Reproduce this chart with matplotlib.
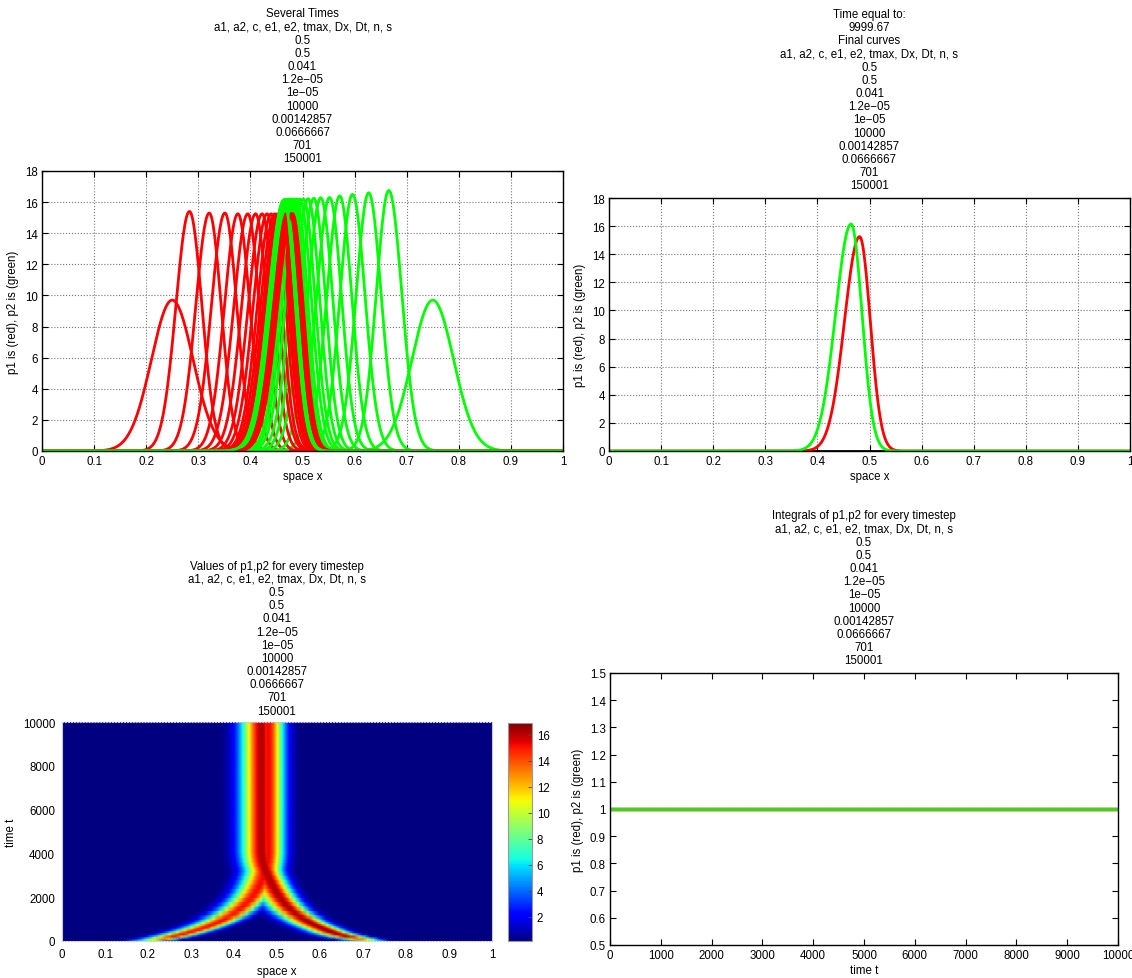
import numpy as np
import matplotlib
matplotlib.use('Agg')
import matplotlib.pyplot as plt
from matplotlib.ticker import FuncFormatter, MultipleLocator

plt.rcParams['font.family'] = ['Liberation Sans', 'DejaVu Sans']
plt.rcParams['font.size'] = 8.3
plt.rcParams['axes.titlesize'] = 8.3

# run parameters printed in every title
param_names = 'a1, a2, c, e1, e2, tmax, Dx, Dt, n, s'
param_values = [0.5, 0.5, 0.041, 1.2e-05, 1e-05, 10000, 0.00142857, 0.0666667, 701, 150001]
t_final = 9999.67
n_x = 701

# top left: snapshot curves (peak position, height, left / right width)
red_x = [0.250, 0.283, 0.321, 0.351, 0.376, 0.395, 0.410, 0.4225, 0.432, 0.440, 0.447, 0.452,
         0.456, 0.460, 0.463, 0.466, 0.469, 0.471, 0.473, 0.475, 0.477, 0.479, 0.480, 0.481]
red_h = [9.7, 15.4, 15.3, 15.3, 15.25, 15.25, 15.25, 15.25, 15.25, 15.25, 15.25, 15.25,
         15.25, 15.25, 15.25, 15.25, 15.25, 15.25, 15.25, 15.25, 15.25, 15.25, 15.25, 15.25]
red_wl = [0.040, 0.026, 0.026, 0.026, 0.026, 0.027, 0.027, 0.027, 0.027, 0.027, 0.028, 0.028,
          0.028, 0.028, 0.028, 0.028, 0.029, 0.029, 0.029, 0.029, 0.029, 0.029, 0.029, 0.029]
red_wr = [0.040, 0.024, 0.023, 0.023, 0.023, 0.022, 0.022, 0.022, 0.022, 0.021, 0.021, 0.021,
          0.021, 0.021, 0.021, 0.0205, 0.0205, 0.0205, 0.0205, 0.0205, 0.0205, 0.0205, 0.0205, 0.0205]
green_x = [0.750, 0.6656, 0.627, 0.596, 0.5715, 0.552, 0.535, 0.522, 0.511, 0.502, 0.495, 0.489,
           0.484, 0.480, 0.477, 0.474, 0.472, 0.470, 0.468, 0.467, 0.466, 0.4655, 0.465, 0.4646]
green_h = [9.7, 16.75, 16.6, 16.5, 16.4, 16.3, 16.28, 16.25, 16.22, 16.2, 16.2, 16.2,
           16.2, 16.2, 16.2, 16.2, 16.18, 16.18, 16.17, 16.16, 16.15, 16.15, 16.15, 16.15]
green_wl = [0.040, 0.024, 0.024, 0.024, 0.025, 0.025, 0.025, 0.026, 0.026, 0.026, 0.027, 0.027,
            0.027, 0.028, 0.028, 0.028, 0.029, 0.029, 0.029, 0.029, 0.0297, 0.0297, 0.0297, 0.0297]
green_wr = [0.040, 0.025, 0.024, 0.024, 0.023, 0.023, 0.023, 0.022, 0.022, 0.022, 0.022, 0.021,
            0.021, 0.021, 0.021, 0.021, 0.021, 0.021, 0.021, 0.021, 0.021, 0.021, 0.021, 0.021]

# top right: final curves
fin_red = (0.481, 15.25, 0.029, 0.0205)
fin_green = (0.4646, 16.15, 0.0297, 0.021)

# bottom left: branch tracks of p1 / p2 in time
hm_t = [0, 100, 200, 300, 400, 500, 600, 700, 800, 900, 1000, 1200, 1400, 1600, 1800,
        2000, 2200, 2400, 2600, 2800, 3000, 3200, 3400, 3600, 3800, 4000, 10000]
hm_x1 = [0.205, 0.235, 0.258, 0.278, 0.296, 0.313, 0.330, 0.344, 0.357, 0.369, 0.380, 0.397,
         0.411, 0.423, 0.434, 0.443, 0.451, 0.457, 0.462, 0.467, 0.470, 0.474, 0.477, 0.479,
         0.480, 0.481, 0.481]
hm_x2 = [0.720, 0.695, 0.670, 0.650, 0.633, 0.620, 0.607, 0.595, 0.584, 0.574, 0.565, 0.550,
         0.537, 0.526, 0.517, 0.509, 0.502, 0.496, 0.490, 0.485, 0.480, 0.476, 0.472, 0.469,
         0.467, 0.466, 0.465]
hm_h1 = [10.0, 13.0, 15.3, 15.4, 15.4, 15.35, 15.3, 15.3, 15.3, 15.3, 15.3, 15.3, 15.3, 15.25,
         15.25, 15.25, 15.25, 15.25, 15.25, 15.25, 15.25, 15.25, 15.25, 15.25, 15.25, 15.25, 15.25]
hm_h2 = [10.0, 13.5, 16.5, 16.8, 16.8, 16.75, 16.7, 16.65, 16.6, 16.55, 16.5, 16.45, 16.4, 16.35,
         16.3, 16.28, 16.25, 16.22, 16.2, 16.2, 16.18, 16.17, 16.16, 16.15, 16.15, 16.15, 16.15]
hm_w1 = (0.033, 0.025)
hm_w2 = (0.033, 0.025)
cbar_lo, cbar_hi = 0.14, 16.92

# bottom right: integrals
int_t = [0, 10000]
int_p1 = [1.0, 1.0]
int_p2 = [1.0, 1.0]


def bump(x, x0, h, wl, wr):
    w = np.where(x < x0, wl, wr)
    return h * np.exp(-0.5 * ((x - x0) / w) ** 2)


def fmt(v):
    return ('%g' % v).replace('-', '\u2212')


par_lines = [param_names] + [fmt(v) for v in param_values]
gfmt = FuncFormatter(lambda v, p: '%g' % round(v, 6))
LS = 1.13

x = np.linspace(0, 1, n_x)
W, H = 1132, 979
fig = plt.figure(figsize=(W / 100, H / 100), dpi=100)


def box(l, r, t, b):
    return [l / W, 1 - b / H, (r - l) / W, (b - t) / H]


def style(ax, grid=True):
    ax.tick_params(direction='in', top=True, right=True, length=4, width=0.8, pad=3)
    for s in ax.spines.values():
        s.set_linewidth(1.0)
    if grid:
        ax.grid(True, linestyle=':', color='#777777', linewidth=0.8)


# Several Times
ax1 = fig.add_axes(box(42, 563, 172, 452))
for i in range(len(red_x)):
    ax1.plot(x, bump(x, red_x[i], red_h[i], red_wl[i], red_wr[i]), color='#ff0000', lw=2)
    ax1.plot(x, bump(x, green_x[i], green_h[i], green_wl[i], green_wr[i]), color='#00ff00', lw=2)
ax1.set_xlim(0, 1)
ax1.set_ylim(0, 18)
ax1.xaxis.set_major_locator(MultipleLocator(0.1))
ax1.yaxis.set_major_locator(MultipleLocator(2))
ax1.xaxis.set_major_formatter(gfmt)
style(ax1)
ax1.set_xlabel('space x', labelpad=2)
ax1.set_ylabel('p1 is (red), p2 is (green)')
ax1.set_title('\n'.join(['Several Times'] + par_lines), linespacing=LS, pad=7)

# Final curves
ax2 = fig.add_axes(box(609, 1130, 199, 452))
ax2.plot(x, np.zeros_like(x), color='black', lw=2)
ax2.plot(x, bump(x, *fin_red), color='#ff0000', lw=2)
ax2.plot(x, bump(x, *fin_green), color='#00ff00', lw=2)
ax2.set_xlim(0, 1)
ax2.set_ylim(0, 18)
ax2.xaxis.set_major_locator(MultipleLocator(0.1))
ax2.yaxis.set_major_locator(MultipleLocator(2))
ax2.xaxis.set_major_formatter(gfmt)
style(ax2)
ax2.set_xlabel('space x', labelpad=2)
ax2.set_ylabel('p1 is (red), p2 is (green)')
ax2.set_title('\n'.join(['Time equal to:', '%g' % t_final, 'Final curves'] + par_lines),
              linespacing=LS, pad=7)

# Values of p1,p2 for every timestep
ax3 = fig.add_axes(box(62, 492, 723, 942))
field = np.array([np.maximum(bump(x, hm_x1[k], hm_h1[k], *hm_w1),
                             bump(x, hm_x2[k], hm_h2[k], *hm_w2)) for k in range(len(hm_t))])
XX, TT = np.meshgrid(x, hm_t)
mesh = ax3.pcolormesh(XX, TT, field, cmap='jet', shading='gouraud', vmin=cbar_lo, vmax=cbar_hi)
ax3.set_xlim(0, 1)
ax3.set_ylim(0, 10000)
ax3.xaxis.set_major_locator(MultipleLocator(0.1))
ax3.yaxis.set_major_locator(MultipleLocator(2000))
ax3.xaxis.set_major_formatter(gfmt)
ax3.tick_params(length=0, pad=5)
for k in ['left', 'right']:
    ax3.spines[k].set_color('#c8c8d8')
for k in ['top', 'bottom']:
    ax3.spines[k].set_color('#c8c8d8')
    ax3.spines[k].set_linestyle(':')
ax3.set_xlabel('space x', labelpad=4)
ax3.set_ylabel('time t')
ax3.set_title('\n'.join(['Values of p1,p2 for every timestep'] + par_lines),
              linespacing=LS, pad=6)

cax = fig.add_axes(box(508, 532, 724, 942))
cb = fig.colorbar(mesh, cax=cax)
cb.set_ticks([2, 4, 6, 8, 10, 12, 14, 16])
cb.ax.tick_params(direction='in', length=3, width=0.6, color='#444444')
cb.outline.set_edgecolor('#999999')

# Integrals of p1,p2 for every timestep
ax4 = fig.add_axes(box(610, 1118, 674, 946))
ax4.plot(int_t, int_p1, color='#ff0000', lw=2.5)
ax4.plot(int_t, int_p2, color='#3fd41c', lw=2.5)
ax4.set_xlim(0, 10000)
ax4.set_ylim(0.5, 1.5)
ax4.xaxis.set_major_locator(MultipleLocator(1000))
ax4.yaxis.set_major_locator(MultipleLocator(0.1))
ax4.yaxis.set_major_formatter(gfmt)
style(ax4, grid=False)
ax4.set_xlabel('time t', labelpad=2)
ax4.set_ylabel('p1 is (red), p2 is (green)')
ax4.set_title('\n'.join(['Integrals of p1,p2 for every timestep'] + par_lines),
              linespacing=LS, pad=7)

fig.savefig('out.png', dpi=100)
